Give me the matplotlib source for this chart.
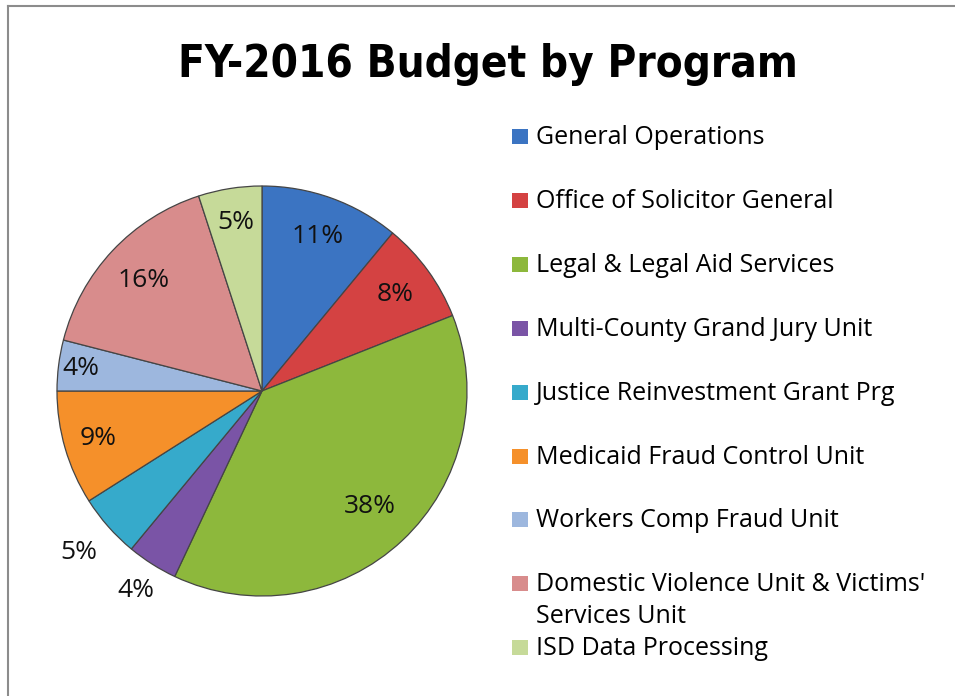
import matplotlib
matplotlib.use('Agg')
import matplotlib.pyplot as plt
from matplotlib.patches import Rectangle
from matplotlib.lines import Line2D
import numpy as np

# data
programs = ['General Operations', 'Office of Solicitor General', 'Legal & Legal Aid Services',
            'Multi-County Grand Jury Unit', 'Justice Reinvestment Grant Prg',
            'Medicaid Fraud Control Unit', 'Workers Comp Fraud Unit',
            "Domestic Violence Unit & Victims'\nServices Unit", 'ISD Data Processing']
shares = [11, 8, 38, 4, 5, 9, 4, 16, 5]
colors = ['#3B74C2', '#D44242', '#8DB83C', '#7A54A6', '#36AACB',
          '#F5902A', '#9DB7DE', '#D88C8C', '#C6DA99']
label_dist = [0.8, 0.8, 0.77, 1.15, 1.19, 0.83, 0.89, 0.79, 0.83]

W, H = 955, 696
fig = plt.figure(figsize=(W / 100, H / 100), dpi=100)

# frame lines (top and left)
fig.add_artist(Line2D([8 / W, 1], [1 - 6 / H, 1 - 6 / H], color='#8c8c8c', lw=1.5))
fig.add_artist(Line2D([8 / W, 8 / W], [0, 1 - 6 / H], color='#8c8c8c', lw=1.5))

fig.text(488 / W, 1 - 77 / H, 'FY-2016 Budget by Program', ha='center', va='baseline',
         fontsize=31.5, fontweight='bold', fontstretch='condensed',
         family=['DejaVu Sans Condensed', 'DejaVu Sans'])

# pie
cx, cy, r = 262, 391, 205
side = 2.5 * r
ax = fig.add_axes([(cx - side / 2) / W, (H - cy - side / 2) / H, side / W, side / H])
wedges, _ = ax.pie(shares, colors=colors, startangle=90, counterclock=False,
                   wedgeprops=dict(edgecolor='#454545', linewidth=0.9))
for w, v, d in zip(wedges, shares, label_dist):
    ang = np.deg2rad((w.theta1 + w.theta2) / 2)
    ax.text(d * np.cos(ang), d * np.sin(ang), f'{v}%', ha='center', va='center',
            fontsize=19, family='Open Sans', color='#111111')

# legend
font = 'Open Sans'
base0, dy, line_h = 144, 63.9, 32
for i, (lab, c) in enumerate(zip(programs, colors)):
    b = base0 + i * dy
    fig.add_artist(Rectangle((512 / W, 1 - (b - 0) / H), 16 / W, 15 / H, facecolor=c,
                             edgecolor='none', transform=fig.transFigure))
    for k, part in enumerate(lab.split('\n')):
        fig.text(536 / W, 1 - (b + k * line_h) / H, part, ha='left', va='baseline',
                 fontsize=18, family=font)

fig.savefig('out.png', dpi=100)
